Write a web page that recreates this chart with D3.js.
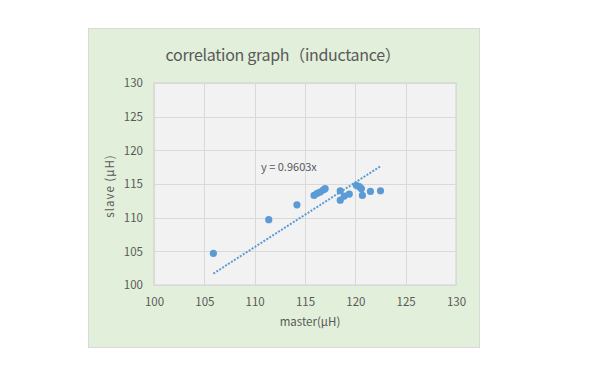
<!DOCTYPE html>
<html>
<head>
<meta charset="utf-8">
<script src="https://cdn.jsdelivr.net/npm/d3@7.9.0/dist/d3.min.js"></script>
<style>
  body { margin: 0; background: #fff; }
  svg text { font-family: "Noto Sans CJK JP", "Open Sans", sans-serif; fill: #595959; }
</style>
</head>
<body>
<svg id="chart" width="591" height="377"></svg>
<script>
// master / slave inductance readings (uH)
const masterVals = [105.9, 111.4, 114.2, 115.9, 116.2, 116.5, 116.8, 117.0, 118.5, 118.5, 118.9, 119.4, 120.1, 120.4, 120.6, 120.7, 121.5, 122.5];
const slaveVals  = [104.7, 109.7, 111.9, 113.3, 113.6, 113.8, 114.1, 114.3, 114.0, 112.6, 113.2, 113.5, 114.8, 114.6, 114.3, 113.3, 113.9, 114.0];
const xTicks = [100, 105, 110, 115, 120, 125, 130];
const yTicks = [100, 105, 110, 115, 120, 125, 130];
const slope = 0.9603;

const svg = d3.select('#chart');
const blue = '#5B9BD5';

// chart area
svg.append('rect')
  .attr('x', 88.5).attr('y', 28.5)
  .attr('width', 391).attr('height', 319)
  .attr('fill', '#E2EFDA')
  .attr('stroke', '#D9D9D9');

const plot = { left: 154, right: 456, top: 83, bottom: 285 };

const x = d3.scaleLinear().domain([100, 130]).range([plot.left, plot.right]);
const y = d3.scaleLinear().domain([100, 130]).range([plot.bottom, plot.top]);

svg.append('rect')
  .attr('x', plot.left).attr('y', plot.top)
  .attr('width', plot.right - plot.left).attr('height', plot.bottom - plot.top)
  .attr('fill', '#F2F2F2')
  .attr('stroke', '#D0D0D0');

// gridlines
svg.append('g').selectAll('line')
  .data(xTicks)
  .join('line')
  .attr('x1', d => Math.round(x(d)) + 0.5).attr('x2', d => Math.round(x(d)) + 0.5)
  .attr('y1', plot.top).attr('y2', plot.bottom)
  .attr('stroke', '#D9D9D9');

svg.append('g').selectAll('line')
  .data(yTicks)
  .join('line')
  .attr('y1', d => Math.round(y(d)) + 0.5).attr('y2', d => Math.round(y(d)) + 0.5)
  .attr('x1', plot.left).attr('x2', plot.right)
  .attr('stroke', '#D9D9D9');

// axes (labels only)
const xAxis = svg.append('g')
  .attr('transform', `translate(0,${plot.bottom})`)
  .call(d3.axisBottom(x).tickValues(xTicks).tickSize(0).tickPadding(13));
const yAxis = svg.append('g')
  .attr('transform', `translate(${plot.left},0)`)
  .call(d3.axisLeft(y).tickValues(yTicks).tickSize(0).tickPadding(11));
[xAxis, yAxis].forEach(a => {
  a.select('.domain').remove();
  a.selectAll('text').attr('font-size', 11.5).attr('fill', '#595959')
    .style('font-family', '"Noto Sans CJK JP", sans-serif');
});

// data
const points = masterVals.map((m, i) => ({ m, s: slaveVals[i] }));

const [minX, maxX] = d3.extent(masterVals);
svg.append('line')
  .attr('x1', x(minX)).attr('y1', y(minX * slope))
  .attr('x2', x(maxX)).attr('y2', y(maxX * slope))
  .attr('stroke', blue)
  .attr('stroke-width', 2)
  .attr('stroke-dasharray', '2 1.5');

svg.append('g').selectAll('circle')
  .data(points)
  .join('circle')
  .attr('cx', d => x(d.m))
  .attr('cy', d => y(d.s))
  .attr('r', 3.6)
  .attr('fill', blue);

svg.append('text')
  .attr('x', 261).attr('y', 171)
  .attr('font-size', 11)
  .attr('fill', '#404040')
  .text(`y = ${slope}x`);

// titles
svg.append('text')
  .attr('x', 283).attr('y', 61)
  .attr('text-anchor', 'middle')
  .attr('font-size', 16)
  .attr('letter-spacing', -0.3)
  .text('correlation graph（inductance）');

svg.append('text')
  .attr('x', 310).attr('y', 326)
  .attr('text-anchor', 'middle')
  .attr('font-size', 11.5)
  .text('master(μH)');

svg.append('text')
  .attr('transform', 'translate(114,186) rotate(-90)')
  .attr('text-anchor', 'middle')
  .attr('font-size', 11.5)
  .attr('letter-spacing', 1)
  .text('slave (μH)');
</script>
</body>
</html>
